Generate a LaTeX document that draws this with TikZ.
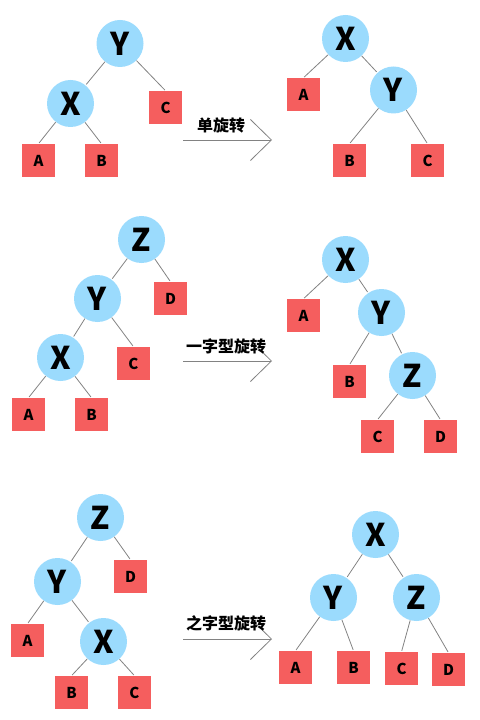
\documentclass[tikz,border=0pt]{standalone}
\usepackage{fontspec}
\setmainfont{Noto Sans CJK SC}
\usetikzlibrary{arrows.meta}
\definecolor{nodeblue}{RGB}{155,219,253}
\definecolor{leafred}{RGB}{245,94,94}
\definecolor{linegray}{RGB}{130,130,130}
\tikzset{
  rnode/.style={circle, fill=nodeblue, minimum size=35.25pt, inner sep=0pt,
    font=\fontsize{23.5}{23.5}\selectfont\bfseries},
  leaf/.style={rectangle, fill=leafred, minimum size=24.75pt, inner sep=0pt,
    font=\fontsize{11.25}{11.25}\selectfont\bfseries},
  link/.style={draw=linegray, line width=0.6pt, shorten >=0.75pt},
  turn/.style={draw=linegray, line width=0.6pt,
    -{Straight Barb[length=15.75pt,width=30.75pt]}},
  caption/.style={font=\fontsize{12}{12}\selectfont\bfseries, anchor=south, inner sep=0pt}
}
\begin{document}
\begin{tikzpicture}[x=0.75pt, y=-0.75pt]
  \useasboundingbox (0,0) rectangle (479,720);
  % single rotation
  \foreach \n/\x/\y in {Y/120/43.5, X/70.5/103.5}
    \node[rnode] (a\n) at (\x,\y) {\n};
  \foreach \n/\x/\y in {A/38.5/160.5, B/101.5/160.5, C/165.5/107.5}
    \node[leaf] (a\n) at (\x,\y) {\n};
  \foreach \n/\x/\y in {X/345.5/38.5, Y/393.5/90}
    \node[rnode] (b\n) at (\x,\y) {\n};
  \foreach \n/\x/\y in {A/303.5/94.5, B/349.5/160.5, C/427.5/160.5}
    \node[leaf] (b\n) at (\x,\y) {\n};
  \foreach \u/\v in {aY/aX, aY/aC.north, aX/aA.north, aX/aB.north,
                     bX/bA.north, bX/bY, bY/bB.north, bY/bC.north}
    \draw[link] (\u) -- (\v);
  \coordinate (s1) at (183,140); \coordinate (e1) at (272,140);
  \draw[turn] (s1) -- (e1);
  \node[caption] (t1) at (221,133) {单旋转};
  % straight-line rotation
  \foreach \n/\x/\y in {Z/141.5/239.5, Y/97.5/298.5, X/60.5/357.5}
    \node[rnode] (c\n) at (\x,\y) {\n};
  \foreach \n/\x/\y in {D/170.5/298.5, C/133.5/363.5, A/28.5/414.5, B/91.5/414.5}
    \node[leaf] (c\n) at (\x,\y) {\n};
  \foreach \n/\x/\y in {X/345.5/259.5, Y/381.5/312.5, Z/412.5/375.5}
    \node[rnode] (d\n) at (\x,\y) {\n};
  \foreach \n/\x/\y in {A/303.5/315.5, B/349.5/381.5, C/377.5/436.5, D/440.5/436.5}
    \node[leaf] (d\n) at (\x,\y) {\n};
  \foreach \u/\v in {cZ/cY, cZ/cD.north, cY/cX, cY/cC.north, cX/cA.north, cX/cB.north,
                     dX/dA.north, dX/dY, dY/dB.north, dY/dZ, dZ/dC.north, dZ/dD.north}
    \draw[link] (\u) -- (\v);
  \coordinate (s2) at (183,361); \coordinate (e2) at (272,361);
  \draw[turn] (s2) -- (e2);
  \node[caption] (t2) at (226,354) {一字型旋转};
  % zigzag rotation
  \foreach \n/\x/\y in {Z/100.5/517.5, Y/57.5/581.5, X/103.5/641.5}
    \node[rnode] (e\n) at (\x,\y) {\n};
  \foreach \n/\x/\y in {D/130.5/576.5, A/27.5/640.5, B/71.5/692.5, C/134.5/692.5}
    \node[leaf] (e\n) at (\x,\y) {\n};
  \foreach \n/\x/\y in {X/375.5/534.5, Y/333.5/597.5, Z/416.5/597.5}
    \node[rnode] (f\n) at (\x,\y) {\n};
  \foreach \n/\x/\y in {A/295.5/667.5, B/353.5/667.5, C/401.5/668.5, D/448.5/669.5}
    \node[leaf] (f\n) at (\x,\y) {\n};
  \foreach \u/\v in {eZ/eY, eZ/eD.north, eY/eA.north, eY/eX, eX/eB.north, eX/eC.north,
                     fX/fY, fX/fZ, fY/fA.north, fY/fB.north, fZ/fC.north, fZ/fD.north}
    \draw[link] (\u) -- (\v);
  \coordinate (s3) at (183,639); \coordinate (e3) at (272,639);
  \draw[turn] (s3) -- (e3);
  \node[caption] (t3) at (226,631) {之字型旋转};
\end{tikzpicture}
\end{document}
